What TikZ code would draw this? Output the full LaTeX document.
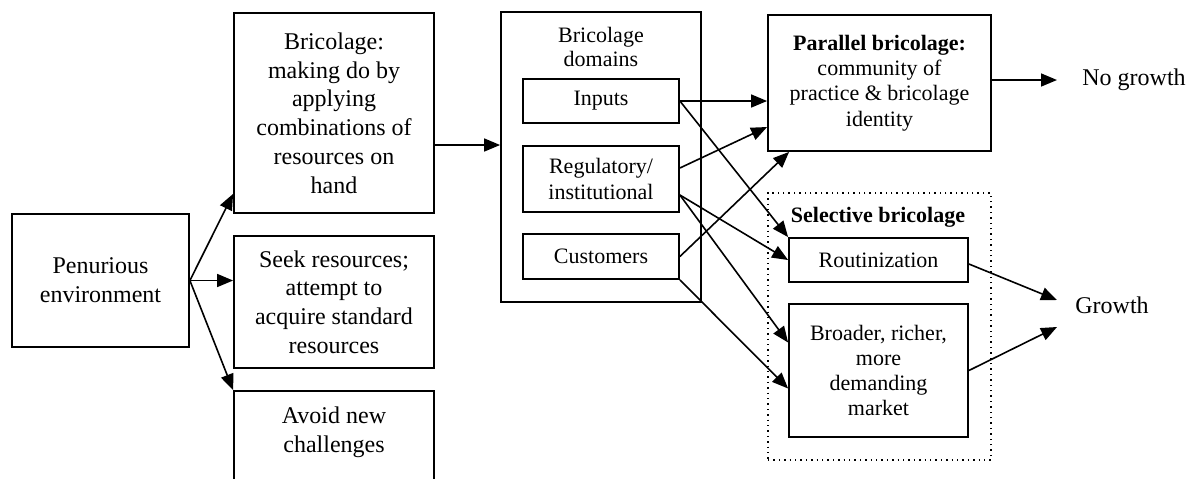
\documentclass[tikz,border=0pt]{standalone}
\usepackage{fontspec}
\setmainfont{Liberation Serif}
\usetikzlibrary{arrows.meta}

\begin{document}
\begin{tikzpicture}[x=.5pt,y=-.5pt,
		box/.style={draw,line width=.9pt,rectangle,inner sep=0pt,align=center,
			font=\fontsize{12}{14.4}\selectfont},
		smallbox/.style={box,font=\fontsize{11}{12.6}\selectfont},
		txt/.style={inner sep=0pt,align=center},
		arr/.style={line width=.8pt,-{Triangle[length=8pt,width=6.5pt]}}]
			\clip (0,0) rectangle (1199,478);
			% left column
			\node[box,minimum width=88.5pt,minimum height=66.5pt] (penury) at (100.5,280.5)
				{Penurious\\environment};
			\node[box,minimum width=100pt,minimum height=100pt] (bricolage) at (334,113)
				{Bricolage:\\making do by\\applying\\combinations of\\resources on\\hand};
			\node[box,minimum width=100pt,minimum height=66pt] (seek) at (334,302)
				{Seek resources;\\attempt to\\acquire standard\\resources};
			\node[box,minimum width=100pt,minimum height=66pt,text depth=27pt] (avoid) at (334,457)
				{Avoid new\\challenges};
			% domains
			\node[box,minimum width=100pt,minimum height=145pt] (domains) at (601,157) {};
			\node[txt,font=\fontsize{11}{12.3}\selectfont] (domtitle) at (601,47)
				{Bricolage\\domains};
			\node[smallbox,minimum width=78pt,minimum height=22pt] (inputs) at (601,101)
				{Inputs};
			\node[smallbox,minimum width=78pt,minimum height=33pt] (regul) at (601,179)
				{Regulatory/\\institutional};
			\node[smallbox,minimum width=78pt,minimum height=22.5pt] (cust) at (601,256.5)
				{Customers};
			% outcomes
			\node[smallbox,minimum width=111.5pt,minimum height=68pt] (parallel) at (879.5,83)
				{\textbf{Parallel bricolage:}\\community of\\practice \& bricolage\\identity};
			\node[draw,dotted,line width=.7pt,inner sep=0pt,minimum width=111.5pt,
				minimum height=133.5pt] (selective) at (879.5,326.5) {};
			\node[txt,font=\fontsize{11}{12.6}\selectfont\bfseries] (seltitle) at (878,217)
				{Selective bricolage};
			\node[smallbox,minimum width=89.5pt,minimum height=22pt] (routin) at (878.5,260)
				{Routinization};
			\node[smallbox,minimum width=89.5pt,minimum height=66.5pt] (broader) at (878.5,370.5)
				{Broader, richer,\\more\\demanding\\market};
			\node[txt,font=\fontsize{12}{14.4}\selectfont,anchor=west] (nogrowth) at (1082,80)
				{No growth};
			\node[txt,font=\fontsize{12}{14.4}\selectfont,anchor=west] (growth) at (1075,305)
				{Growth};
			% connectors
			\draw[arr] (penury.east) -- ([yshift=10pt]bricolage.south west);
			\draw[arr] (penury.east) -- (seek.west |- penury.east);
			\draw[arr] (penury.east) -- (avoid.north west);
			\draw[arr] ([yshift=-16pt]bricolage.east) coordinate (b1) -- (domains.west |- b1);
			\draw[arr] (inputs.east) -- (parallel.west |- inputs.east);
			\draw[arr] (inputs.east) -- (routin.north west);
			\draw[arr] ([yshift=5.5pt]regul.east) -- ([yshift=-22pt]parallel.west);
			\draw[arr] ([yshift=-8pt]regul.east) -- (routin.west);
			\draw[arr] ([yshift=-8pt]regul.east) -- ([yshift=14pt]broader.west);
			\draw[arr] (cust.east) -- ([xshift=11pt]parallel.south west);
			\draw[arr] (cust.south east) -- ([yshift=-9pt]broader.west);
			\draw[arr] (parallel.east |- nogrowth.west) -- ([xshift=-12.5pt]nogrowth.west);
			\draw[arr] ([yshift=-2pt]routin.east) -- ([xshift=-9pt,yshift=2.5pt]growth.west);
			\draw[arr] (broader.east) -- ([xshift=-9pt,yshift=-11pt]growth.west);
		\end{tikzpicture}
\end{document}
